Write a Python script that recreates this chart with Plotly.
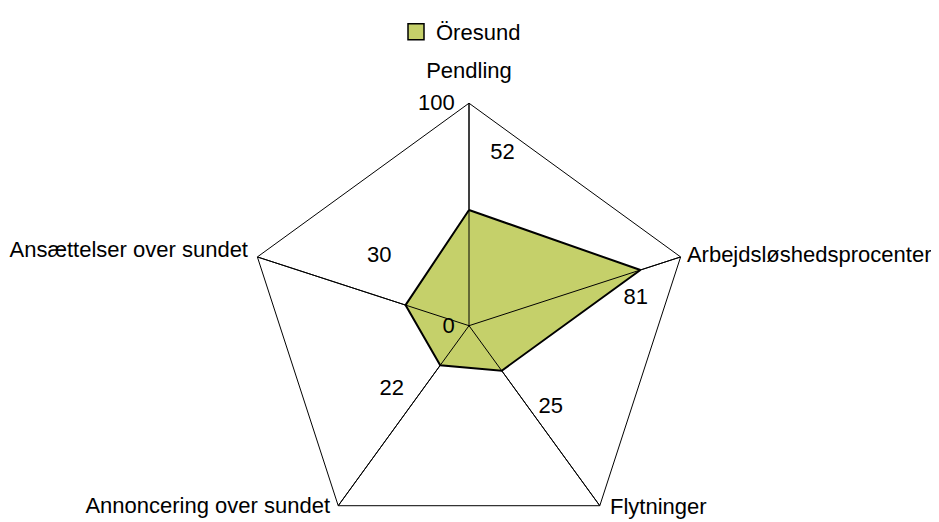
import plotly.graph_objects as go

categories = ["Pendling", "Arbejdsløshedsprocenter", "Flytninger",
              "Annoncering over sundet", "Ansættelser over sundet"]
values = [52, 81, 25, 22, 30]
series_name = "Öresund"
radial_tickvals = [0, 100]
axis_max = 100

# layout-only placement of texts (radius in axis units, angular shift in degrees from spoke)
value_label_r = [79, 76, 52, 45, 51]
value_label_shift = [11, 8.6, -9, 14.5, 19.8]
cat_label_r = [114, 102.8, 103.6, 103.0, 104.7]
cat_label_shift = [0, 0.3, -1.72, 1.33, 0.44]
cat_label_pos = ["middle center", "middle right", "middle right", "middle left", "middle left"]

FONT = "Liberation Sans, Arial, Helvetica, sans-serif"
FS = 22
FILL = "rgb(197,208,106)"
OFF = 8                      # page body margin
W = 939
cx, cy, R = 469 - OFF, 325.7 - OFF, 222.5
LABEL_MAX = 120              # outer radial limit of the text overlay
R2 = R * LABEL_MAX / axis_max
H = int(round(cy + R2)) + 1

n = len(categories)
step = 360 / n
value_theta = [i * step + s for i, s in enumerate(value_label_shift)]
cat_theta = [i * step + s for i, s in enumerate(cat_label_shift)]

fig = go.Figure()

# data polygon
fig.add_trace(go.Scatterpolar(
    r=values + values[:1], theta=categories + categories[:1],
    mode="lines", fill="toself", fillcolor=FILL,
    line=dict(color="black", width=2), showlegend=False, hoverinfo="skip",
    subplot="polar"))

# spokes drawn over the fill
for c in categories:
    fig.add_trace(go.Scatterpolar(
        r=[0, axis_max], theta=[c, c], mode="lines",
        line=dict(color="black", width=1), showlegend=False, hoverinfo="skip",
        subplot="polar"))

# legend entry
fig.add_trace(go.Scatterpolar(
    r=[None], theta=[categories[0]], mode="markers", name=series_name,
    marker=dict(symbol="square", size=18, color=FILL, line=dict(color="black", width=1.5)),
    subplot="polar"))

# value labels
fig.add_trace(go.Scatterpolar(
    r=value_label_r, theta=value_theta, mode="text",
    text=[str(v) for v in values],
    textfont=dict(family=FONT, size=FS, color="black"),
    showlegend=False, hoverinfo="skip", subplot="polar2", cliponaxis=False))

# category labels
fig.add_trace(go.Scatterpolar(
    r=cat_label_r, theta=cat_theta, mode="text", text=categories,
    textposition=cat_label_pos,
    textfont=dict(family=FONT, size=FS, color="black"),
    showlegend=False, hoverinfo="skip", subplot="polar2", cliponaxis=False))

dom_x = [(cx - R) / W, (cx + R) / W]
dom_y = [(H - cy - R) / H, (H - cy + R) / H]
dom2_x = [(cx - R2) / W, (cx + R2) / W]
dom2_y = [max(0, (H - cy - R2) / H), min(1, (H - cy + R2) / H)]

fig.update_layout(
    width=W, height=H,
    margin=dict(l=0, r=0, t=0, b=0),
    paper_bgcolor="white", plot_bgcolor="white",
    font=dict(family=FONT, size=FS, color="black"),
    polar=dict(
        domain=dict(x=dom_x, y=dom_y),
        bgcolor="white",
        gridshape="linear",
        angularaxis=dict(
            type="category", categoryarray=categories, rotation=90, direction="clockwise",
            showline=True, linecolor="black", linewidth=1,
            showgrid=True, gridcolor="black", gridwidth=1,
            ticks="", showticklabels=False,
        ),
        radialaxis=dict(
            range=[0, axis_max], angle=90, showgrid=False, showline=False,
            tickmode="array", tickvals=radial_tickvals,
            ticks="outside", ticklen=6, tickcolor="rgba(0,0,0,0)",
            tickfont=dict(family=FONT, size=FS, color="black"),
            tickangle=90, side="counterclockwise",
        ),
    ),
    polar2=dict(
        domain=dict(x=dom2_x, y=dom2_y),
        bgcolor="rgba(0,0,0,0)",
        angularaxis=dict(type="linear", thetaunit="degrees", rotation=90, direction="clockwise",
                         visible=False, showgrid=False, showline=False, showticklabels=False),
        radialaxis=dict(range=[0, LABEL_MAX], visible=False, showgrid=False,
                        showline=False, showticklabels=False),
    ),
    legend=dict(
        orientation="h", x=388 / W, xanchor="left", y=(H - 24) / H, yanchor="middle",
        font=dict(family=FONT, size=FS, color="black"), bgcolor="rgba(0,0,0,0)",
    ),
    showlegend=True,
)

fig.write_html("out.html")
